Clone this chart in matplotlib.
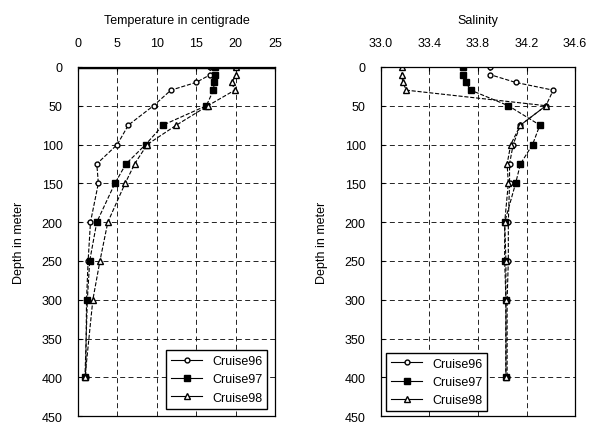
import matplotlib
matplotlib.use('Agg')
import matplotlib.pyplot as plt
import numpy as np

plt.rcParams['font.family'] = ['Liberation Sans', 'DejaVu Sans']
plt.rcParams['font.size'] = 9

# depth levels (m)
depth = [0, 10, 20, 30, 50, 75, 100, 125, 150, 200, 250, 300, 400]

# temperature (deg C)
temp96 = [16.8, 16.8, 15.0, 11.8, 9.6, 6.4, 5.0, 2.4, 2.6, 1.6, 1.3, 1.1, 1.0]
temp97 = [17.4, 17.4, 17.3, 17.2, 16.3, 10.8, 8.6, 6.1, 4.7, 2.4, 1.5, 1.2, 0.9]
temp98 = [20.1, 20.1, 19.5, 19.9, 16.5, 12.5, 8.8, 7.2, 6.0, 3.8, 2.8, 1.9, 0.9]

# salinity
sal96 = [33.90, 33.90, 34.11, 34.42, 34.36, 34.15, 34.09, 34.06, 34.06, 34.05, 34.05, 34.04, 34.04]
sal97 = [33.68, 33.68, 33.70, 33.74, 34.05, 34.31, 34.25, 34.15, 34.11, 34.02, 34.02, 34.03, 34.03]
sal98 = [33.17, 33.17, 33.18, 33.21, 34.36, 34.15, 34.07, 34.04, 34.05, 34.02, 34.03, 34.03, 34.03]

labels = ['Cruise96', 'Cruise97', 'Cruise98']

fig = plt.figure(figsize=(5.99, 4.27), dpi=100)
ax1 = fig.add_axes([0.130, 0.023, 0.329, 0.818])
ax2 = fig.add_axes([0.636, 0.023, 0.324, 0.818])

styles = [dict(marker='o', mfc='white', mec='black', ms=3.5),
          dict(marker='s', mfc='black', mec='black', ms=4),
          dict(marker='^', mfc='white', mec='black', ms=4)]

for vals, lab, st in zip([temp96, temp97, temp98], labels, styles):
    ax1.plot(vals, depth, color='black', lw=0.8, ls='--', label=lab, **st)
for vals, lab, st in zip([sal96, sal97, sal98], labels, styles):
    ax2.plot(vals, depth, color='black', lw=0.8, ls='--', label=lab, **st)

ax1.set_xlim(0, 25)
ax1.set_xticks([0, 5, 10, 15, 20, 25])
ax2.set_xlim(33.0, 34.6)
ax2.set_xticks([33.0, 33.4, 33.8, 34.2, 34.6])
ax2.set_xticklabels(['33.0', '33.4', '33.8', '34.2', '34.6'])

for ax in (ax1, ax2):
    ax.set_ylim(450, 0)
    ax.set_yticks(np.arange(0, 451, 50))
    ax.xaxis.tick_top()
    ax.xaxis.set_label_position('top')
    ax.tick_params(direction='in', length=3, width=0.8)
    ax.tick_params(axis='x', pad=13)
    ax.tick_params(axis='y', pad=11)
    ax.grid(True, color='black', lw=0.6, ls=(0, (6, 4)))
    ax.set_ylabel('Depth in meter', fontsize=9, labelpad=12)
    for s in ax.spines.values():
        s.set_linewidth(0.9)

ax1.axhline(0, color='black', lw=2.5)
ax1.set_xlabel('Temperature in centigrade', labelpad=10)
ax2.set_xlabel('Salinity', labelpad=10)

ax1.legend(loc='lower right', frameon=True, fancybox=False, edgecolor='black',
           framealpha=1, handlelength=2.5, borderaxespad=0.6)
leg2 = ax2.legend(loc='lower left', frameon=True, fancybox=False, edgecolor='black',
                  framealpha=1, handlelength=2.5, borderaxespad=0.4)
for leg in (ax1.get_legend(), leg2):
    for h in leg.get_lines():
        h.set_linestyle('-')

fig.savefig('out.png', dpi=100)
